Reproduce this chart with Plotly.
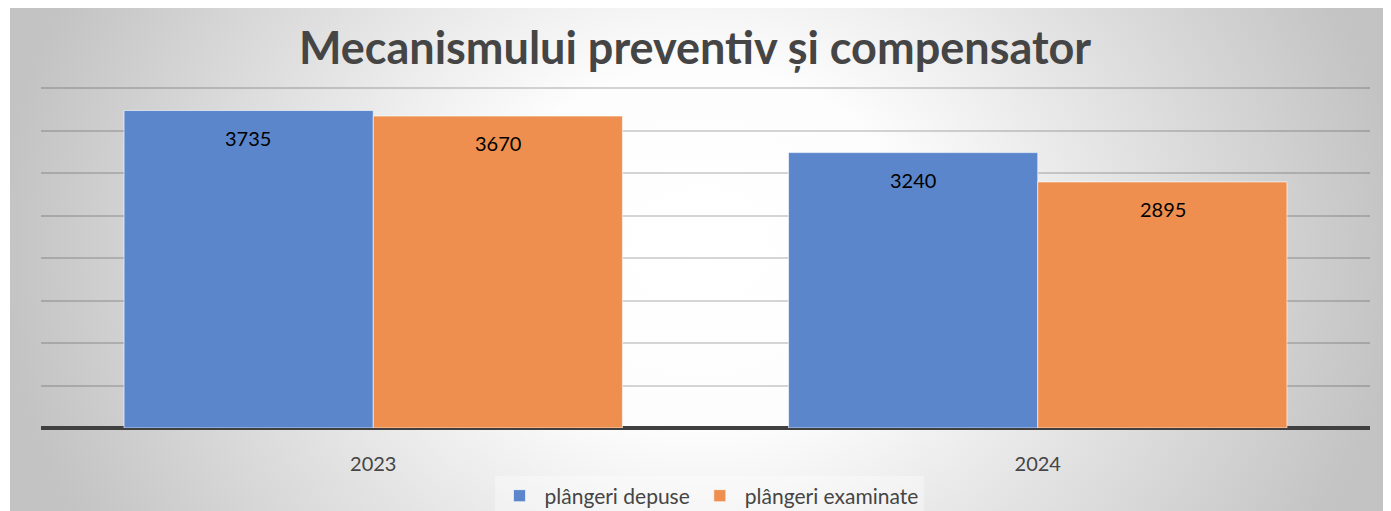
import base64
import plotly.graph_objects as go

categories = ["2023", "2024"]
series_names = ["plângeri depuse", "plângeri examinate"]
depuse = [3735, 3240]
examinate = [3670, 2895]
title_text = "Mecanismului preventiv și compensator"

# page body has an 8px margin, so the figure starts at screen (8, 8)
W, H = 1383, 503
L, R, T, B = 33, 21, 79, 83
pw, ph = W - L - R, H - T - B

FX0 = 2  # frame left edge in figure px
svg = f'''<svg xmlns="http://www.w3.org/2000/svg" width="{W-FX0}" height="{H}" viewBox="0 0 {W-FX0} {H}" preserveAspectRatio="none">
<defs><radialGradient id="g" gradientUnits="userSpaceOnUse" cx="690" cy="240" r="700"
 gradientTransform="translate(690 240) scale(1 0.86) translate(-690 -240)">
<stop offset="0" stop-color="#ffffff"/><stop offset="0.3" stop-color="#fdfdfd"/>
<stop offset="1" stop-color="#c3c3c3"/></radialGradient></defs>
<rect width="100%" height="100%" fill="url(#g)"/></svg>'''
src = "data:image/svg+xml;base64," + base64.b64encode(svg.encode()).decode()

font = "Lato, Open Sans, sans-serif"
xpos = list(range(len(categories)))

fig = go.Figure()
fig.add_trace(go.Bar(x=xpos, y=depuse, name=series_names[0],
                     marker=dict(color="#5b86cc", line=dict(color="rgba(255,255,255,0.6)", width=1))))
fig.add_trace(go.Bar(x=xpos, y=examinate, name=series_names[1],
                     marker=dict(color="#ee8f4f", line=dict(color="rgba(255,255,255,0.6)", width=1))))

for vals, shift in ((depuse, -125), (examinate, 125)):
    for xi, v in zip(xpos, vals):
        fig.add_annotation(x=xi, y=v, text=str(v), showarrow=False, xshift=shift, yshift=-27,
                           font=dict(family=font, size=20, color="#000000"))

fig.add_layout_image(dict(source=src, xref="paper", yref="paper",
                          x=(FX0 - L) / pw, y=1 + T / ph,
                          sizex=(W - FX0) / pw, sizey=H / ph,
                          xanchor="left", yanchor="top", sizing="stretch", layer="below"))

fig.update_layout(
    width=W, height=H,
    margin=dict(l=L, r=R, t=T, b=B, autoexpand=False),
    paper_bgcolor="#ffffff", plot_bgcolor="rgba(0,0,0,0)",
    barmode="group", bargap=0.25, bargroupgap=0,
    title=dict(text="<b>" + title_text + "</b>", x=(695 - 8) / W, xanchor="center",
               y=1 - 40 / H, yanchor="middle",
               font=dict(family=font, size=45, color="#454545")),
    showlegend=True,
    legend=dict(orientation="h", x=(709 - 8 - L) / pw, xanchor="center", y=-(488 - 420) / ph,
                yanchor="middle", bgcolor="rgba(255,255,255,0.35)", itemwidth=40,
                font=dict(family=font, size=21, color="#454545"), traceorder="normal"),
    xaxis=dict(range=[-0.5, len(categories) - 0.5], tickvals=xpos, ticktext=categories,
               showgrid=False, showline=False, ticks="", automargin=False, zeroline=False,
               ticklabelstandoff=22,
               tickfont=dict(family=font, size=20, color="#454545")),
    yaxis=dict(range=[0, 4012], tick0=0, dtick=500, showticklabels=False, showgrid=True, automargin=False,
               gridcolor="rgba(0,0,0,0.16)", gridwidth=1.5,
               zeroline=True, zerolinecolor="#404040", zerolinewidth=4),
)
fig.write_html("out.html")
